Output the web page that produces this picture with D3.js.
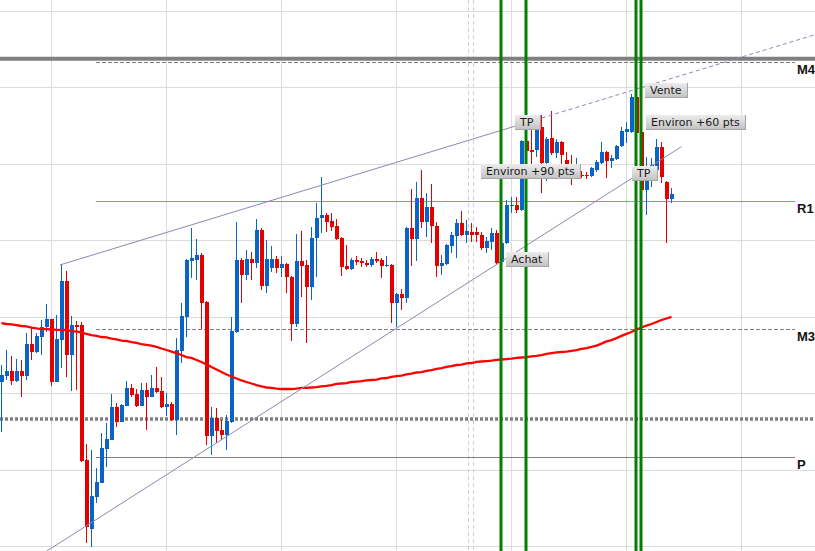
<!DOCTYPE html>
<html><head><meta charset="utf-8">
<script src="https://cdn.jsdelivr.net/npm/d3@7"></script>
<style>html,body{margin:0;padding:0;background:#fff;overflow:hidden}</style>
</head><body><svg id="c" width="815" height="551"></svg>
<script>
const opens = [4257.2,4261.1,4264.4,4257.8,4264.4,4261.1,4282.0,4276.8,4286.6,4293.1,4298.4,4257.2,4284.6,4323.2,4274.8,4294.4,4294.4,4206.2,4161.1,4182.0,4191.2,4213.4,4219.3,4240.8,4231.0,4241.5,4253.3,4249.3,4241.5,4252.0,4247.4,4253.3,4251.3,4240.8,4242.8,4232.4,4277.5,4299.7,4336.3,4336.9,4340.2,4309.5,4221.9,4233.7,4225.8,4222.6,4231.0,4289.9,4336.9,4327.1,4337.6,4335.0,4356.5,4319.9,4331.7,4337.6,4331.7,4334.3,4325.8,4295.1,4336.3,4333.7,4319.3,4351.3,4364.4,4366.3,4362.4,4359.1,4351.3,4333.0,4331.1,4336.9,4336.3,4335.0,4333.7,4337.6,4336.9,4333.0,4333.7,4308.8,4314.7,4312.1,4357.8,4350.7,4377.4,4361.8,4371.6,4359.1,4333.0,4334.3,4346.1,4352.6,4361.1,4353.3,4355.2,4355.2,4353.3,4344.8,4348.7,4354.6,4335.6,4348.0,4372.2,4372.9,4369.6,4414.7,4408.8,4408.8,4423.9,4400.3,4416.7,4406.9,4414.0,4402.3,4397.7,4393.8,4392.5,4392.5,4391.8,4395.8,4400.3,4407.5,4401.6,4402.9,4411.4,4420.6,4420.6,4443.5,4420.6,4382.7,4392.5,4395.8,4410.8,4387.9,4376.8];
const highs = [4268.3,4278.1,4274.2,4272.2,4271.6,4289.2,4292.5,4289.2,4297.7,4308.2,4298.4,4301.0,4334.3,4329.7,4300.3,4297.1,4296.4,4216.7,4212.7,4201.0,4223.9,4230.4,4249.3,4243.5,4242.8,4257.8,4255.9,4252.6,4256.5,4256.5,4261.8,4267.0,4260.5,4250.0,4244.1,4286.0,4308.8,4337.6,4357.8,4350.7,4341.5,4310.0,4240.8,4240.2,4232.4,4235.6,4299.7,4361.8,4338.2,4343.5,4342.2,4363.7,4357.8,4350.0,4346.1,4339.5,4339.5,4335.0,4326.2,4353.9,4355.9,4336.9,4358.5,4374.2,4391.2,4367.6,4367.6,4363.7,4352.0,4346.7,4338.2,4339.5,4338.2,4336.9,4338.9,4342.2,4338.2,4339.5,4334.3,4315.2,4318.0,4358.5,4383.3,4387.9,4395.8,4380.7,4386.6,4361.8,4340.2,4347.4,4355.2,4363.7,4369.0,4363.1,4361.1,4358.5,4355.2,4352.0,4357.8,4356.5,4350.0,4376.1,4378.1,4378.1,4415.3,4420.6,4423.2,4423.9,4431.7,4417.3,4434.3,4416.0,4414.7,4407.5,4405.6,4403.6,4395.1,4394.4,4397.7,4402.3,4414.0,4408.0,4405.6,4412.1,4423.9,4427.1,4445.4,4444.8,4421.9,4404.2,4403.6,4416.0,4414.0,4388.5,4384.0];
const lows = [4224.5,4258.5,4255.2,4257.2,4247.4,4258.5,4271.6,4276.1,4274.8,4289.9,4254.6,4257.2,4266.3,4260.5,4251.3,4252.0,4205.0,4152.0,4149.3,4178.1,4191.2,4201.6,4219.3,4227.8,4231.0,4241.5,4247.4,4240.8,4241.5,4225.8,4247.4,4250.0,4240.2,4235.0,4231.8,4222.6,4269.6,4286.6,4325.2,4323.9,4291.8,4216.0,4209.5,4217.3,4219.3,4212.7,4230.5,4289.3,4308.8,4323.9,4323.9,4331.7,4317.3,4315.4,4329.1,4328.4,4325.8,4315.4,4284.0,4293.1,4312.7,4282.7,4310.8,4325.8,4354.6,4355.2,4355.9,4350.0,4326.5,4330.5,4330.5,4333.7,4332.4,4332.4,4332.4,4335.0,4325.2,4332.4,4295.8,4293.1,4304.2,4308.8,4333.0,4336.3,4357.8,4352.0,4348.0,4325.8,4327.1,4333.7,4341.5,4338.2,4352.6,4348.0,4348.7,4348.7,4343.5,4341.5,4343.5,4334.4,4335.0,4347.4,4367.6,4367.6,4369.0,4407.5,4393.8,4404.2,4380.7,4388.6,4405.6,4403.6,4397.1,4390.5,4385.9,4391.2,4390.5,4389.9,4391.2,4394.4,4400.0,4390.5,4397.1,4402.3,4410.8,4413.4,4419.9,4418.6,4381.4,4366.3,4384.6,4395.5,4387.3,4348.0,4374.2];
const closes = [4261.8,4264.4,4257.8,4264.4,4261.1,4282.0,4276.8,4287.3,4293.1,4298.4,4257.2,4285.3,4323.2,4274.8,4294.4,4293.8,4205.6,4162.4,4182.7,4191.8,4214.0,4219.9,4240.8,4231.0,4242.2,4253.3,4248.7,4241.5,4252.0,4247.4,4253.3,4250.7,4240.8,4242.8,4232.4,4278.1,4300.3,4336.9,4338.2,4340.2,4308.8,4221.9,4233.7,4225.2,4222.6,4231.7,4290.5,4336.9,4327.1,4337.6,4335.0,4356.5,4319.9,4337.6,4337.6,4331.7,4334.3,4325.8,4295.1,4336.3,4333.0,4319.3,4351.3,4364.4,4366.3,4361.8,4358.5,4350.7,4332.4,4331.1,4336.9,4335.6,4335.0,4333.7,4337.6,4336.3,4333.0,4333.7,4308.8,4314.7,4312.1,4357.8,4350.7,4377.4,4361.8,4371.6,4359.1,4333.0,4335.0,4346.7,4353.3,4361.1,4353.3,4355.9,4353.3,4353.3,4344.8,4349.3,4354.6,4335.0,4348.0,4372.9,4372.9,4369.6,4414.7,4408.2,4408.2,4421.9,4400.3,4416.0,4406.9,4414.0,4405.6,4397.7,4395.1,4395.8,4391.8,4391.8,4397.1,4401.0,4407.5,4401.6,4403.6,4411.4,4421.2,4422.6,4443.5,4419.9,4382.7,4392.5,4399.0,4410.8,4391.2,4376.8,4380.1];
const movingAverage = [4295.7,4295.1,4294.8,4294.4,4293.8,4293.5,4292.8,4292.2,4291.8,4291.8,4291.5,4291.2,4291.2,4291.2,4290.5,4290.2,4289.5,4288.6,4287.9,4287.3,4286.6,4286.3,4285.6,4285.0,4284.3,4284.0,4283.3,4282.7,4282.0,4281.4,4281.0,4280.1,4279.1,4278.1,4277.1,4276.1,4274.8,4273.5,4272.9,4271.6,4270.3,4268.6,4267.0,4265.4,4263.7,4262.1,4260.8,4259.5,4258.2,4257.2,4256.2,4255.2,4254.3,4253.6,4253.3,4252.9,4252.6,4252.6,4252.6,4252.9,4253.3,4253.3,4253.6,4253.9,4254.3,4254.6,4255.2,4255.9,4256.2,4256.5,4257.2,4257.5,4257.8,4258.2,4258.5,4258.8,4259.5,4259.8,4260.5,4261.1,4261.4,4262.1,4262.7,4263.4,4263.7,4264.4,4265.0,4265.7,4266.3,4267.0,4267.6,4268.3,4268.6,4269.3,4269.6,4270.3,4270.6,4270.9,4271.2,4271.6,4271.9,4272.2,4272.5,4272.9,4273.2,4273.5,4273.9,4274.2,4274.8,4275.5,4276.1,4276.5,4276.8,4277.1,4277.5,4278.1,4278.8,4279.4,4280.1,4281.0,4282.3,4283.7,4284.6,4285.9,4287.3,4288.6,4289.9,4291.5,4292.8,4294.1,4295.1,4296.4,4297.7,4298.7,4299.7];

const gridPrices = [4150,4200,4250,4300,4350,4400,4450,4500];
const gridIndex = [9.9,32.9,55.9,78.9,101.9,124.9,147.9];
const separatorIndex = [93.35,94.35];
const ceilingPrice = 4468.5;
const dottedPrice = 4233.0;
const levelNames = ["M4","R1","M3","P"];
const levelPrices = [4466.3,4375.5,4291.8,4208.2];
const levelStyles = ["dashed","green","dashed","solid"];
const levelRange = [18.9,158.7];
const signalIndex = [100,105,127,128];
const upperTrend = [[11.7,4333.7],[102.7,4424.4]];
const upperTrendExt = [[102.7,4424.4],[162.7,4484.2]];
const lowerTrend = [[9,4146.6],[136,4411.0]];
const labelTexts = ["TP","Environ +90 pts","Achat","Vente","Environ +60 pts","TP"];
const labelIndex = [102.7,95.9,100.9,128.7,128.9,126.1];
const labelPrices = [4427.1,4395.4,4337.3,4448.0,4427.1,4393.5];

const W = 815, H = 551;
const svg = d3.select("#c");
const x = d3.scaleLinear().domain([0,134]).range([1.5,671.5]);
const y = d3.scaleLinear().domain([4150,4500]).range([546,10.5]);

const defs = svg.append("defs");
const lg = defs.append("linearGradient").attr("id","lg").attr("x1",0).attr("y1",0).attr("x2",0).attr("y2",1);
lg.append("stop").attr("offset","0%").attr("stop-color","#ececec");
lg.append("stop").attr("offset","100%").attr("stop-color","#c4c4c4");

svg.append("rect").attr("width",W).attr("height",H).attr("fill","#fff");

// grid
const grid = svg.append("g").attr("shape-rendering","crispEdges");
grid.selectAll("line.h").data(gridPrices).join("line")
  .attr("x1",0).attr("x2",W).attr("y1",d=>Math.round(y(d))+0.5).attr("y2",d=>Math.round(y(d))+0.5)
  .attr("stroke","#dcdcdc");
grid.selectAll("line.v").data(gridIndex).join("line")
  .attr("y1",0).attr("y2",H).attr("x1",d=>Math.round(x(d))+0.5).attr("x2",d=>Math.round(x(d))+0.5)
  .attr("stroke","#dcdcdc");
grid.selectAll("line.s").data(separatorIndex).join("line")
  .attr("y1",0).attr("y2",H).attr("x1",d=>Math.round(x(d))+0.5).attr("x2",d=>Math.round(x(d))+0.5)
  .attr("stroke","#d0d0d0").attr("stroke-dasharray","4,3");

// levels
const lv = svg.append("g");
lv.append("line").attr("x1",0).attr("x2",W).attr("y1",y(ceilingPrice)).attr("y2",y(ceilingPrice))
  .attr("stroke","#808080").attr("stroke-width",4);
lv.append("line").attr("x1",0).attr("x2",W).attr("y1",y(dottedPrice)).attr("y2",y(dottedPrice))
  .attr("stroke","#808080").attr("stroke-width",3.5).attr("stroke-dasharray","3,2");
levelPrices.forEach((p,k)=>{
  const yy = Math.round(y(p))+0.5;
  const st = levelStyles[k];
  lv.append("line").attr("x1",x(levelRange[0])).attr("x2",x(levelRange[1])).attr("y1",yy).attr("y2",yy)
    .attr("stroke", st==="green" ? "#00ff00" : "#808080")
    .attr("stroke-width", st==="green" ? 1 : 1.2)
    .attr("stroke-dasharray", st==="dashed" ? "4,2" : null);
  lv.append("text").attr("x",x(levelRange[1])+2).attr("y",yy+11)
    .attr("font-family","Liberation Sans, Arial, sans-serif").attr("font-weight","bold")
    .attr("font-size",13).attr("fill","#111").text(levelNames[k]);
});

// candles
const idx = d3.range(opens.length);
const cg = svg.append("g").attr("shape-rendering","crispEdges");
const col = i => closes[i] >= opens[i] ? "#0a64c8" : "#e50000";
cg.selectAll("line").data(idx).join("line")
  .attr("x1",i=>x(i)).attr("x2",i=>x(i))
  .attr("y1",i=>y(highs[i])).attr("y2",i=>y(lows[i]))
  .attr("stroke",col).attr("stroke-width",1);
cg.selectAll("rect").data(idx).join("rect")
  .attr("x",i=>x(i)-1.5).attr("width",4)
  .attr("y",i=>y(Math.max(opens[i],closes[i])))
  .attr("height",i=>Math.max(1.5, Math.abs(y(opens[i])-y(closes[i]))))
  .attr("fill",col);

// moving average
svg.append("path").datum(idx)
  .attr("d", d3.line().x(i=>x(i)).y(i=>y(movingAverage[i])))
  .attr("fill","none").attr("stroke","#ff0000").attr("stroke-width",2.3);

// trend lines
const tl = d3.line().x(d=>x(d[0])).y(d=>y(d[1]));
svg.append("path").datum(upperTrend).attr("d",tl).attr("fill","none").attr("stroke","#8a8ab0").attr("stroke-width",1);
svg.append("path").datum(upperTrendExt).attr("d",tl).attr("fill","none").attr("stroke","#8a8ab0").attr("stroke-width",1).attr("stroke-dasharray","4,3");
svg.append("path").datum(lowerTrend).attr("d",tl).attr("fill","none").attr("stroke","#8a8ab0").attr("stroke-width",1);

// signal verticals
svg.append("g").selectAll("line").data(signalIndex).join("line")
  .attr("x1",d=>x(d)-0.5).attr("x2",d=>x(d)-0.5).attr("y1",0).attr("y2",H)
  .attr("stroke","#008000").attr("stroke-width",3);

// labels
const lb = svg.append("g");
labelTexts.forEach((t,k)=>{
  const g = lb.append("g").attr("transform",`translate(${Math.round(x(labelIndex[k]))},${Math.round(y(labelPrices[k]))})`);
  const rect = g.append("rect");
  const txt = g.append("text").attr("x",5).attr("y",4)
    .attr("font-family","DejaVu Sans, Verdana, sans-serif").attr("font-size",11)
    .attr("fill","#1a1a1a").text(t);
  const w = Math.round(txt.node().getBBox().width) + 10;
  rect.attr("x",0).attr("y",-7).attr("width",w).attr("height",14).attr("fill","url(#lg)");
  g.append("line").attr("x1",w+0.5).attr("x2",w+0.5).attr("y1",-7).attr("y2",7.5).attr("stroke","#a4a4a4");
  g.append("line").attr("x1",0).attr("x2",w+1).attr("y1",7.5).attr("y2",7.5).attr("stroke","#a4a4a4");
});
</script></body></html>
